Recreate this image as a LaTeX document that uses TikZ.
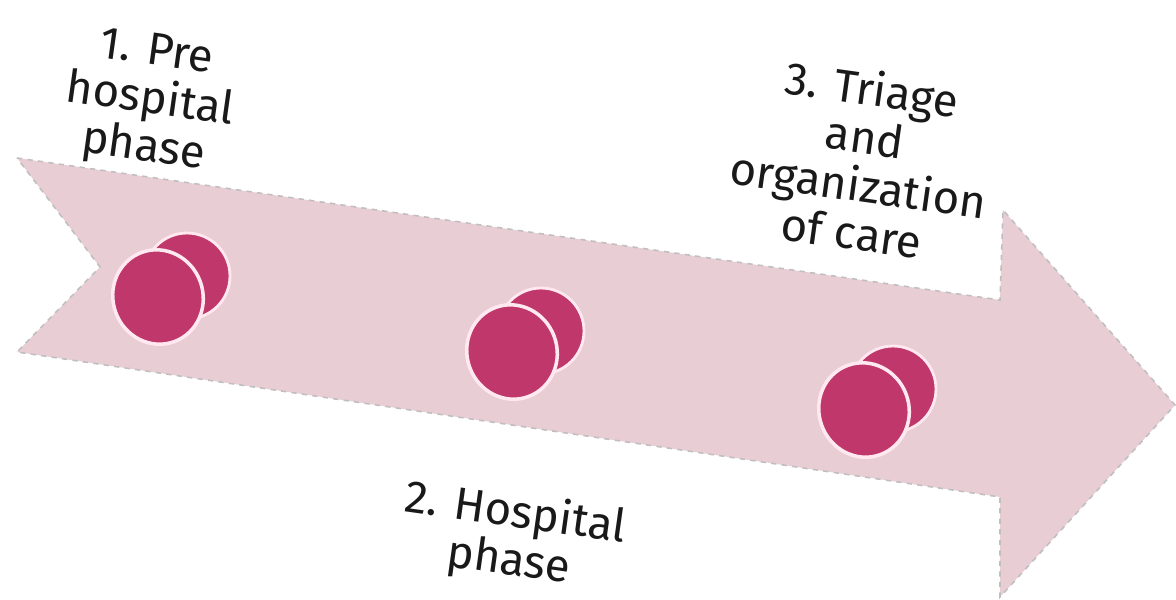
\documentclass[tikz,border=0pt]{standalone}
\usepackage{fontspec}
\setmainfont{Fira Sans}
\usetikzlibrary{shapes.geometric}

\definecolor{bandpink}{HTML}{E9CDD5}
\definecolor{discred}{HTML}{C0386B}
\definecolor{discrim}{HTML}{FFE8EF}

\begin{document}
\begin{tikzpicture}[
    x=0.02cm, y=-0.02cm,
    band/.style={fill=bandpink, draw=gray!50, dashed, line width=0.9pt},
    backdisc/.style={circle, fill=discred, draw=discrim, line width=1.6pt, minimum size=1.72cm, inner sep=0pt},
    frontdisc/.style={ellipse, fill=discred, draw=discrim, line width=2pt, minimum width=1.8cm, minimum height=1.9cm, inner sep=0pt, rotate=20},
    phase/.style={align=center, text=black!90, font=\fontsize{26}{27.5}\selectfont, rotate=-8}
]

% Canvas of the reference size
\useasboundingbox (0,0) rectangle (1176,599);

% Arrow band first (bottom layer)
\draw[band] (17,158) -- (1000,300) -- (1003,210) -- (1175,405) -- (1000,597)
    -- (1000,497) -- (17,352) -- (100,267) -- cycle;

% Discs on the band - back one up and right of the front one
\foreach \i/\x/\y in {1/158/297, 2/512/352, 3/864/410} {
    \node[backdisc] (back\i) at (\x+29,\y-21) {};
    \node[frontdisc] (front\i) at (\x,\y) {};
}

% Phase labels
\node[phase] (pre) at (150,102) {1. Pre\\hospital\\phase};
\node[phase] (hosp) at (512,538) {2. Hospital\\phase};
\node[phase] (triage) at (862,160) {3. Triage\\and\\organization\\of care};

\end{tikzpicture}
\end{document}
